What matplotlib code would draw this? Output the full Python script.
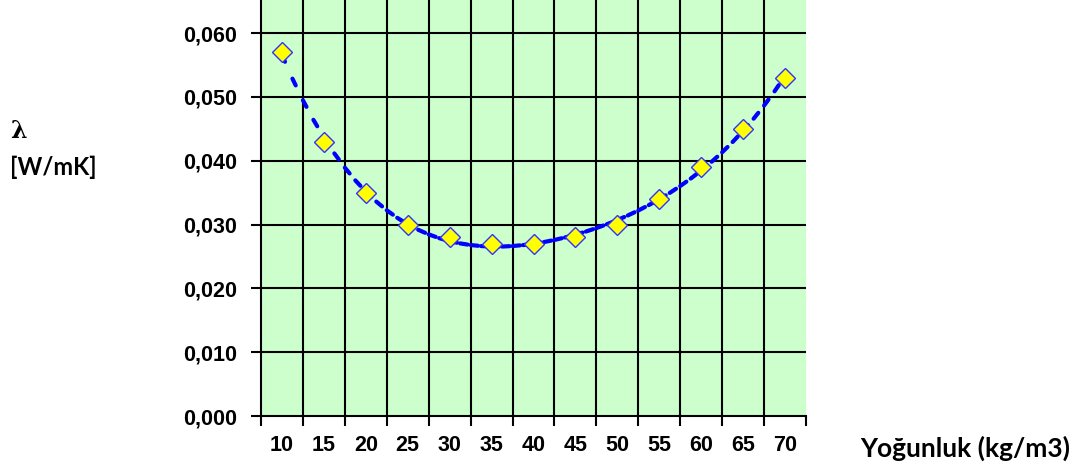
import numpy as np
import matplotlib
matplotlib.use("Agg")
import matplotlib.pyplot as plt
from matplotlib.collections import LineCollection

# density categories (kg/m3) and thermal conductivity values (W/mK)
densities = ["10", "15", "20", "25", "30", "35", "40", "45", "50", "55", "60", "65", "70"]
lambdas = [0.057, 0.043, 0.035, 0.030, 0.028, 0.027, 0.027, 0.028, 0.030, 0.034, 0.039, 0.045, 0.053]
ytick_vals = [0.000, 0.010, 0.020, 0.030, 0.040, 0.050, 0.060]
ytick_labels = ["0,000", "0,010", "0,020", "0,030", "0,040", "0,050", "0,060"]

fig = plt.figure(figsize=(10.8, 4.73), dpi=100)
ax = fig.add_axes([261/1080, 57/473, 545/1080, 416/473])
ax.set_facecolor("#CCFFCC")

n = len(densities)
x = np.arange(n)
ax.set_xlim(-0.5, n - 0.5)
ax.set_ylim(0, 0.0652)

# grid (drawn by hand so no line sits on the right edge)
for yv in ytick_vals[1:]:
    ax.axhline(yv, color="black", lw=1.5, zorder=1)
for k in range(n - 1):
    ax.axvline(k + 0.5, color="black", lw=1.5, zorder=1)

# polynomial trend line, drawn as short segments so dashes restart on each
coef = np.polyfit(x, lambdas, 4)
xs = np.linspace(0, n - 1, 4 * (n - 1) + 1)
ys = np.polyval(coef, xs)
segs = [[(xs[i], ys[i]), (xs[i + 1], ys[i + 1])] for i in range(len(xs) - 1)]
lc = LineCollection(segs, colors="#0000FF", linewidths=3, linestyles=[(0, (1.8, 10))],
                    capstyle="round", zorder=2)
ax.add_collection(lc)

ax.plot(x, lambdas, linestyle="none", marker="D", markersize=10,
        markerfacecolor="#FFFF00", markeredgecolor="#3333FF", markeredgewidth=1, zorder=3)

# axes styling
for s in ["top", "right"]:
    ax.spines[s].set_visible(False)
ax.spines["left"].set_linewidth(1.5)
ax.spines["bottom"].set_linewidth(1.5)

ax.set_yticks(ytick_vals)
ax.set_yticklabels(ytick_labels, fontsize=15.5, fontweight="bold", family="Liberation Sans")
ax.set_xticks(np.arange(-0.5, n, 1.0))
ax.set_xticklabels([])
ax.set_xticks(x, minor=True)
ax.set_xticklabels(densities, minor=True, fontsize=15.5, fontweight="bold", family="Liberation Sans")
ax.tick_params(axis="both", which="major", direction="out", length=7, width=1.5, color="black")
ax.tick_params(axis="x", which="minor", length=0, pad=14)
ax.tick_params(axis="y", pad=10)

fig.text(860/1080, 1 - 448/473, "Yoğunluk (kg/m3)", fontsize=19, fontweight="bold",
         family="Lato", va="center", ha="left")
fig.text(10/1080, 1 - 131/473, "λ", fontsize=17, fontweight="bold", family="DejaVu Serif",
         va="center", ha="left")
fig.text(10/1080, 1 - 167/473, "[W/mK]", fontsize=17, fontweight="bold", family="Lato",
         va="center", ha="left")

fig.savefig("out.png", dpi=100)
